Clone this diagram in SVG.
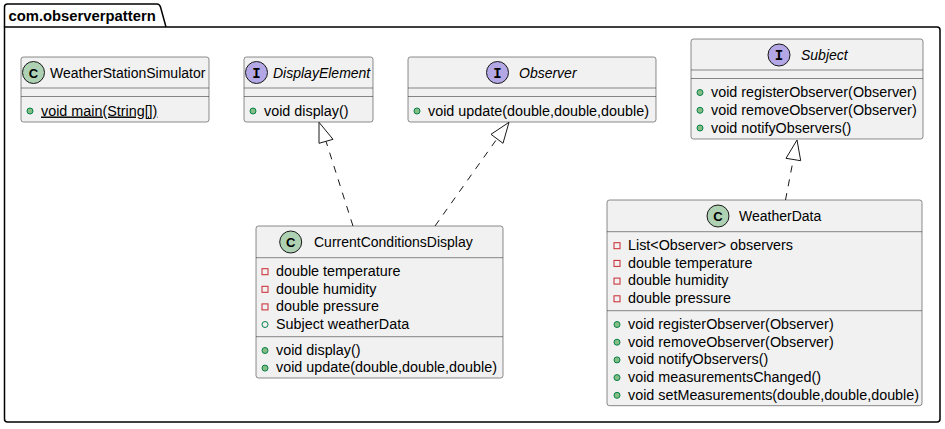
<svg xmlns="http://www.w3.org/2000/svg" width="945" height="429" viewBox="0 0 945 429">
<style>
text{font-family:"Liberation Sans",Arial,sans-serif;font-size:14.35px;fill:#000}
.nm{font-size:14px}
.pk{font-weight:bold;font-size:14.8px}
.it{font-style:italic}
.box{fill:#F1F1F1;stroke:#181818;stroke-width:0.5}
.sep{stroke:#181818;stroke-width:0.5}
.cc{fill:#ADD1B2;stroke:#181818;stroke-width:1}
.ci{fill:#B4A7E5;stroke:#181818;stroke-width:1}
.lt{font-weight:bold;text-anchor:middle;font-size:13px}
.li{font-family:"Liberation Mono",monospace;font-weight:bold;text-anchor:middle;font-size:14px}
.pm{fill:#84BE84;stroke:#038048;stroke-width:1}
.pf{fill:none;stroke:#038048;stroke-width:1}
.pr{fill:none;stroke:#C82930;stroke-width:1}
.dash{fill:none;stroke:#181818;stroke-width:1;stroke-dasharray:7,7}
.head{fill:none;stroke:#181818;stroke-width:1}
</style>
<g id="package">
<path d="M4.5 27 L4.5 7 Q4.5 4 7.5 4 L157 4 Q159.5 4 160.5 7 L166 27" fill="none" stroke="#000" stroke-width="1.5"/>
<path d="M4.5 27 L937 27 Q940 27 940 30 L940 419 Q940 422 937 422 L7.5 422 Q4.5 422 4.5 419 Z" fill="none" stroke="#000" stroke-width="1.5"/>
<text x="8.5" y="21" class="pk">com.observerpattern</text>
</g>
<g id="WeatherStationSimulator">
<rect class="box" x="21" y="57" width="188" height="65" rx="2.5"/>
<circle class="cc" cx="33.5" cy="72.5" r="11"/>
<text class="lt" x="33.5" y="77.5">C</text>
<text class="nm" x="50" y="77.5">WeatherStationSimulator</text>
<line class="sep" x1="21" y1="88" x2="209" y2="88"/>
<line class="sep" x1="21" y1="96.5" x2="209" y2="96.5"/>
<circle class="pm" cx="30" cy="111" r="3"/>
<text x="41" y="115.5" text-decoration="underline">void main(String[])</text>
</g>
<g id="DisplayElement">
<rect class="box" x="244" y="57" width="129" height="65" rx="2.5"/>
<circle class="ci" cx="256.5" cy="72.5" r="11"/>
<text class="li" x="256.5" y="77.5">I</text>
<text class="it nm" x="273" y="77.5">DisplayElement</text>
<line class="sep" x1="244" y1="88" x2="373" y2="88"/>
<line class="sep" x1="244" y1="96.5" x2="373" y2="96.5"/>
<circle class="pm" cx="253" cy="111" r="3"/>
<text x="264" y="115.5">void display()</text>
</g>
<g id="Observer">
<rect class="box" x="408" y="57" width="248" height="65" rx="2.5"/>
<circle class="ci" cx="497.5" cy="72.5" r="11"/>
<text class="li" x="497.5" y="77.5">I</text>
<text class="it nm" x="519" y="77.5">Observer</text>
<line class="sep" x1="408" y1="88" x2="656" y2="88"/>
<line class="sep" x1="408" y1="96.5" x2="656" y2="96.5"/>
<circle class="pm" cx="417" cy="111" r="3"/>
<text x="428" y="115.5">void update(double,double,double)</text>
</g>
<g id="Subject">
<rect class="box" x="691" y="39" width="232" height="100" rx="2.5"/>
<circle class="ci" cx="779" cy="55" r="11"/>
<text class="li" x="779" y="60">I</text>
<text class="it nm" x="801" y="60">Subject</text>
<line class="sep" x1="691" y1="70" x2="923" y2="70"/>
<line class="sep" x1="691" y1="78.5" x2="923" y2="78.5"/>
<circle class="pm" cx="700" cy="92.5" r="3"/>
<text x="711" y="97">void registerObserver(Observer)</text>
<circle class="pm" cx="700" cy="110.3" r="3"/>
<text x="711" y="114.8">void removeObserver(Observer)</text>
<circle class="pm" cx="700" cy="128" r="3"/>
<text x="711" y="132.5">void notifyObservers()</text>
</g>
<g id="CurrentConditionsDisplay">
<rect class="box" x="256" y="226" width="247" height="152" rx="2.5"/>
<circle class="cc" cx="290.7" cy="242" r="11"/>
<text class="lt" x="290.7" y="247">C</text>
<text class="nm" x="314" y="247">CurrentConditionsDisplay</text>
<line class="sep" x1="256" y1="257.7" x2="503" y2="257.7"/>
<rect class="pr" x="262" y="268.7" width="6" height="6"/>
<text x="276" y="276">double temperature</text>
<rect class="pr" x="262" y="286.3" width="6" height="6"/>
<text x="276" y="293.6">double humidity</text>
<rect class="pr" x="262" y="303.9" width="6" height="6"/>
<text x="276" y="311.2">double pressure</text>
<circle class="pf" cx="265" cy="324.5" r="3"/>
<text x="276" y="328.8">Subject weatherData</text>
<line class="sep" x1="256" y1="336.7" x2="503" y2="336.7"/>
<circle class="pm" cx="265" cy="350.5" r="3"/>
<text x="276" y="354.8">void display()</text>
<circle class="pm" cx="265" cy="368.1" r="3"/>
<text x="276" y="372.4">void update(double,double,double)</text>
</g>
<g id="WeatherData">
<rect class="box" x="607" y="200" width="315" height="205.7" rx="2.5"/>
<circle class="cc" cx="718" cy="216" r="11"/>
<text class="lt" x="718" y="221">C</text>
<text class="nm" x="739" y="221">WeatherData</text>
<line class="sep" x1="607" y1="231.7" x2="922" y2="231.7"/>
<rect class="pr" x="614" y="242.7" width="6" height="6"/>
<text x="628" y="250">List&lt;Observer&gt; observers</text>
<rect class="pr" x="614" y="260.4" width="6" height="6"/>
<text x="628" y="267.7">double temperature</text>
<rect class="pr" x="614" y="278.1" width="6" height="6"/>
<text x="628" y="285.4">double humidity</text>
<rect class="pr" x="614" y="295.8" width="6" height="6"/>
<text x="628" y="303.1">double pressure</text>
<line class="sep" x1="607" y1="310.7" x2="922" y2="310.7"/>
<circle class="pm" cx="617" cy="324.5" r="3"/>
<text x="628" y="328.8">void registerObserver(Observer)</text>
<circle class="pm" cx="617" cy="342.2" r="3"/>
<text x="628" y="346.5">void removeObserver(Observer)</text>
<circle class="pm" cx="617" cy="359.9" r="3"/>
<text x="628" y="364.2">void notifyObservers()</text>
<circle class="pm" cx="617" cy="377.6" r="3"/>
<text x="628" y="381.9">void measurementsChanged()</text>
<circle class="pm" cx="617" cy="395.3" r="3"/>
<text x="628" y="399.6">void setMeasurements(double,double,double)</text>
</g>
<g id="connectors">
<path class="dash" d="M353 226 L326 141.3"/>
<polygon class="head" points="319,122.3 319,143.3 333,139.3"/>
<path class="dash" d="M435 226 L497 138.8"/>
<polygon class="head" points="509,122.3 491,134.3 503,143.3"/>
<path class="dash" d="M785.5 200 L793.3 159.5"/>
<polygon class="head" points="797,140 786,158.3 800.7,160.7"/>
</g>
</svg>
